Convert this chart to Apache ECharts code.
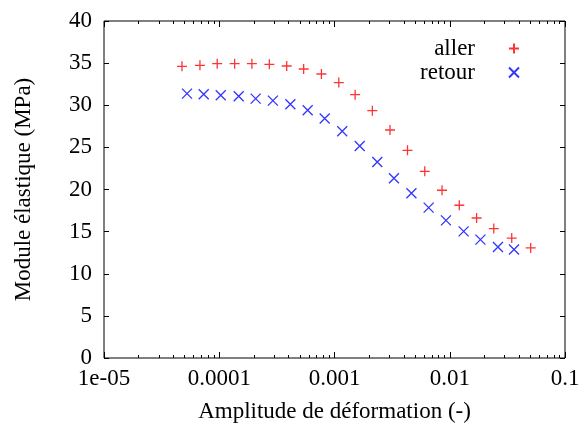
<!DOCTYPE html>
<html>
<head>
<meta charset="utf-8">
<script src="https://cdn.jsdelivr.net/npm/echarts@6/dist/echarts.min.js"></script>
<style>html,body{margin:0;padding:0;background:#fff}#c{width:581px;height:427px}</style>
</head>
<body>
<div id="c"></div>
<script>
const allerStrain = [4.75e-5, 6.8e-5, 9.6e-5, 1.36e-4, 1.92e-4, 2.72e-4, 3.85e-4, 5.4e-4, 7.7e-4, 1.09e-3, 1.51e-3, 2.13e-3, 3.03e-3, 4.3e-3, 6.07e-3, 8.57e-3, 1.21e-2, 1.71e-2, 2.41e-2, 3.45e-2, 5.04e-2];
const allerModulus = [34.62, 34.74, 34.94, 34.94, 34.94, 34.86, 34.66, 34.30, 33.71, 32.69, 31.26, 29.36, 27.06, 24.65, 22.16, 19.91, 18.13, 16.62, 15.36, 14.24, 13.06];
const retourStrain = [5.25e-5, 7.33e-5, 1.03e-4, 1.475e-4, 2.07e-4, 2.92e-4, 4.14e-4, 5.85e-4, 8.22e-4, 1.167e-3, 1.655e-3, 2.35e-3, 3.28e-3, 4.65e-3, 6.56e-3, 9.27e-3, 1.32e-2, 1.845e-2, 2.62e-2, 3.61e-2];
const retourModulus = [31.38, 31.30, 31.18, 31.06, 30.79, 30.55, 30.11, 29.40, 28.42, 26.91, 25.16, 23.26, 21.33, 19.55, 17.85, 16.34, 15.03, 14.05, 13.18, 12.87];
const xTickValues = [1e-5, 1e-4, 1e-3, 1e-2, 1e-1];
const xTickLabels = ['1e-05', '0.0001', '0.001', '0.01', '0.1'];
const seriesNames = ['aller', 'retour'];
const xTitle = 'Amplitude de déformation (-)';
const yTitle = 'Module élastique (MPa)';

const minorTicks = [];
for (let d = 0; d < 4; d++) {
  for (let m = 2; m <= 9; m++) minorTicks.push(m * xTickValues[d]);
}
const FONT = 'Liberation Serif';
const FS = 23;
const plus = 'path://M0,5L10,5M5,0L5,10';
const cross = 'path://M0,0L10,10M10,0L0,10';

function xLabel(v) {
  const i = Math.round(Math.log10(v)) + 5;
  return xTickLabels[i] !== undefined ? xTickLabels[i] : '';
}
function logAxis(pos, ticks, len, labels) {
  return {
    type: 'log', logBase: 10, min: 1e-5, max: 0.1, position: pos,
    axisLine: { show: false },
    splitLine: { show: false },
    axisTick: { show: true, inside: true, length: len, customValues: ticks, lineStyle: { color: '#000', width: 1 } },
    axisLabel: labels ? { show: true, customValues: xTickValues, formatter: xLabel, fontFamily: FONT, fontSize: FS, color: '#000', margin: 9, hideOverlap: false } : { show: false },
    name: labels ? xTitle : '', nameLocation: 'middle', nameGap: 42,
    nameTextStyle: { fontFamily: FONT, fontSize: FS, color: '#000' }
  };
}
function linAxis(pos, labels) {
  return {
    type: 'value', min: 0, max: 40, interval: 5, position: pos,
    axisLine: { show: false }, splitLine: { show: false },
    axisTick: { show: true, inside: true, length: 5, lineStyle: { color: '#000', width: 1 } },
    axisLabel: labels ? { show: true, fontFamily: FONT, fontSize: FS, color: '#000', margin: 12 } : { show: false },
    name: labels ? yTitle : '', nameLocation: 'middle', nameGap: 69,
    nameTextStyle: { fontFamily: FONT, fontSize: FS, color: '#000' }
  };
}
const chart = echarts.init(document.getElementById('c'), null, { renderer: 'canvas' });
chart.setOption({
  animation: false,
  backgroundColor: '#fff',
  grid: { left: 104, right: 16, top: 21, bottom: 69, containLabel: false, outerBoundsMode: 'none',
          show: true, borderColor: '#000', borderWidth: 1, backgroundColor: 'transparent' },
  xAxis: [
    logAxis('bottom', xTickValues, 6, true),
    logAxis('bottom', minorTicks, 3, false),
    logAxis('top', xTickValues, 6, false),
    logAxis('top', minorTicks, 3, false)
  ],
  yAxis: [linAxis('left', true), linAxis('right', false)],
  legend: [
    { data: [seriesNames[0]], orient: 'vertical', align: 'right', right: 56, top: 32, itemWidth: 10, itemHeight: 10,
      textStyle: { fontFamily: FONT, fontSize: FS, color: '#000', padding: [0, 29, 0, 0] } },
    { data: [seriesNames[1]], orient: 'vertical', align: 'right', right: 56, top: 56, itemWidth: 10, itemHeight: 10,
      textStyle: { fontFamily: FONT, fontSize: FS, color: '#000', padding: [0, 29, 0, 0] } }
  ],
  series: [
    { name: seriesNames[0], type: 'scatter', xAxisIndex: 0, yAxisIndex: 0, symbol: plus, symbolSize: 10,
      itemStyle: { color: 'rgba(0,0,0,0)', borderColor: '#ff0000', borderWidth: 1.3 },
      data: allerStrain.map((x, i) => [x, allerModulus[i]]) },
    { name: seriesNames[1], type: 'scatter', xAxisIndex: 0, yAxisIndex: 0, symbol: cross, symbolSize: 10,
      itemStyle: { color: 'rgba(0,0,0,0)', borderColor: '#0000ff', borderWidth: 1.3 },
      data: retourStrain.map((x, i) => [x, retourModulus[i]]) }
  ]
});
</script>
</body>
</html>
